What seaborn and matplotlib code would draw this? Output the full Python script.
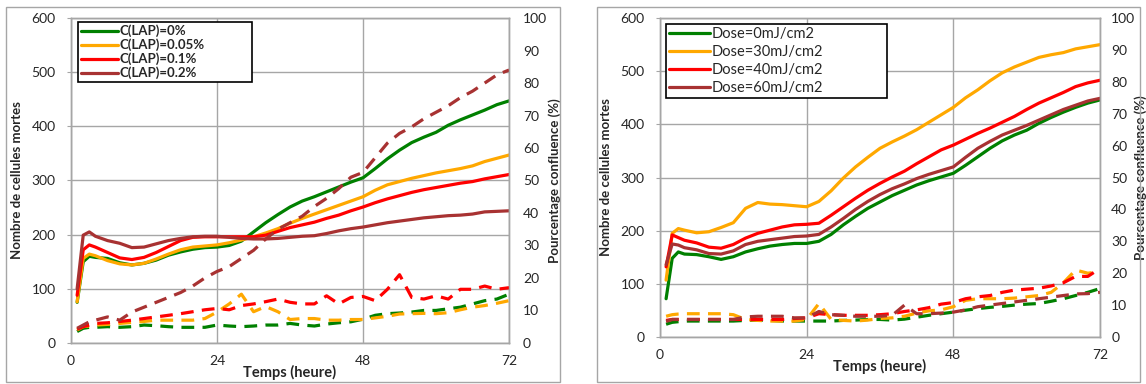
import matplotlib
matplotlib.use("Agg")
import matplotlib.pyplot as plt
from matplotlib.patches import Rectangle
import seaborn as sns
import pandas as pd

# temps (heures)
temps = [1, 2, 3, 4, 6, 8, 10, 12, 14, 16, 18, 20, 22, 24, 26, 28, 30, 32, 34, 36,
         38, 40, 42, 44, 46, 48, 50, 52, 54, 56, 58, 60, 62, 64, 66, 68, 70, 72]

# Panneau gauche : concentration LAP
lap_labels = ["C(LAP)=0%", "C(LAP)=0.05%", "C(LAP)=0.1%", "C(LAP)=0.2%"]
lap_mortes = [
    [75, 150, 160, 158, 156, 148, 144, 147, 153, 162, 168, 173, 176, 177, 180, 188, 205, 222, 237, 251,
     262, 270, 279, 288, 297, 305, 322, 340, 356, 370, 380, 389, 402, 412, 421, 430, 440, 447],
    [76, 156, 164, 161, 152, 146, 144, 147, 155, 164, 172, 177, 179, 181, 185, 190, 196, 203, 211, 221,
     230, 238, 246, 254, 262, 270, 282, 292, 298, 304, 309, 314, 318, 322, 327, 335, 341, 347],
    [88, 172, 181, 177, 167, 157, 154, 158, 167, 178, 189, 195, 196, 196, 196, 196, 196, 199, 206, 213,
     218, 223, 230, 236, 244, 251, 259, 266, 272, 278, 283, 287, 291, 295, 298, 303, 307, 311],
    [100, 199, 205, 197, 189, 184, 176, 177, 183, 189, 193, 196, 197, 197, 195, 193, 192, 192, 193, 195,
     197, 198, 202, 207, 211, 214, 218, 222, 225, 228, 231, 233, 235, 236, 238, 242, 243, 244],
]
lap_confluence = [
    [3.5, 4.5, 4.8, 4.8, 5, 4.8, 5, 5.5, 5.3, 5, 4.8, 4.8, 4.8, 5.5, 5.2, 5, 5.2, 5.5, 5.5, 6,
     5.5, 5.2, 5.8, 6.2, 6.5, 7.3, 8.5, 9, 9.2, 9.5, 10, 10, 10.5, 11, 12, 13, 13.5, 15],
    [4, 5, 5.2, 5.5, 5.7, 6, 6.3, 6.6, 7, 7, 7, 7, 7.5, 9.5, 12, 15, 9.6, 11.2, 9.6, 7.2,
     7.5, 7.5, 7, 7, 7.2, 7.2, 7.7, 8.2, 8.9, 9, 9.1, 9, 9.3, 10.2, 11, 11.5, 12.2, 13],
    [4.2, 5, 5.5, 6, 6.2, 6.6, 7, 7.5, 8, 8.5, 9, 9.6, 10.2, 10.6, 10.2, 11.5, 12, 12.7, 13.5, 12.5,
     12, 12, 14.5, 12, 14, 14.3, 13, 16.5, 21, 14, 13.5, 14.5, 13.5, 16.5, 16.5, 17.5, 16.5, 17],
    [4.5, 5.5, 6.5, 7, 8, 7, 9.5, 11, 12.5, 14, 15.5, 17.5, 20, 22, 23.5, 26, 28.5, 32, 35, 37,
     39, 42, 44.5, 47.5, 51, 52.5, 57, 61.5, 64.5, 66.5, 69, 71, 73, 75.5, 77.5, 80, 82.5, 84],
]

# Panneau droit : dose UV
dose_labels = ["Dose=0mJ/cm2", "Dose=30mJ/cm2", "Dose=40mJ/cm2", "Dose=60mJ/cm2"]
dose_mortes = [
    [72, 148, 160, 156, 155, 151, 146, 151, 160, 166, 171, 174, 176, 176, 180, 193, 211, 227, 242, 254,
     266, 276, 286, 294, 301, 308, 323, 339, 355, 369, 380, 389, 402, 413, 423, 432, 440, 446],
    [107, 195, 204, 201, 196, 198, 206, 215, 242, 253, 250, 249, 247, 245, 255, 275, 299, 320, 338, 355,
     367, 378, 390, 404, 418, 432, 450, 465, 482, 497, 508, 517, 526, 531, 535, 542, 546, 550],
    [132, 192, 187, 182, 177, 169, 167, 174, 186, 195, 201, 207, 211, 212, 214, 229, 245, 261, 276, 289,
     301, 312, 326, 339, 352, 361, 372, 383, 393, 404, 415, 428, 440, 450, 460, 471, 478, 483],
    [136, 175, 173, 168, 164, 157, 156, 162, 174, 180, 183, 186, 189, 190, 193, 207, 223, 240, 255, 268,
     279, 288, 298, 306, 313, 320, 338, 355, 368, 380, 389, 398, 408, 418, 428, 436, 444, 449],
]
dose_confluence = [
    [4, 4.6, 4.8, 5, 5, 5, 5, 5, 5.2, 5.3, 5.2, 5, 5, 5, 5, 5, 5.2, 5.3, 5.5, 5.5,
     5.3, 5.6, 6.2, 6.8, 7.3, 7.8, 8.4, 8.9, 9.3, 9.6, 10, 10.3, 10.5, 11.2, 12, 13, 14, 15.2],
    [6.5, 7, 7.2, 7.3, 7.3, 7.3, 7.3, 7, 5.5, 5.2, 5, 5, 5, 5.5, 10.5, 5.5, 5.2, 5, 5.3, 5.8,
     6, 6.5, 7.5, 8.2, 8.5, 9.5, 11.5, 12, 12, 12, 12.2, 12.6, 13, 14, 17, 21, 20, 20.5],
    [5.2, 5.5, 5.5, 5.5, 5.5, 5.5, 5.5, 5.5, 5.5, 5.5, 5.5, 5.5, 5.8, 6, 7.3, 7, 6.8, 6.8, 6.8, 7,
     7.3, 8, 8.5, 9.2, 10.3, 10.8, 12, 12.6, 13, 14, 14.7, 15, 15.3, 16, 17, 19, 19, 21.5],
    [4.9, 5.5, 5.5, 5.5, 5.5, 5.5, 5.5, 5.5, 6.3, 6.5, 6.5, 6.5, 6, 6, 8, 7, 6.8, 6.5, 6.5, 6.5,
     6.8, 10, 7.3, 7.3, 7.5, 7.8, 8.5, 9.5, 10, 10.5, 11, 11.5, 12, 12.5, 13, 13.5, 13.6, 14],
]

couleurs = ["#008000", "#FFA800", "#FF0000", "#A83232"]
gris = "#A6A6A6"

sns.set_style("white")
plt.rcParams['font.family'] = ['Lato', 'DejaVu Sans']

fig = plt.figure(figsize=(11.46, 3.84), dpi=100)


def to_long(labels, series):
    rows = []
    for lab, vals in zip(labels, series):
        for t, v in zip(temps, vals):
            rows.append({"Temps": t, "val": v, "serie": lab})
    return pd.DataFrame(rows)


def panneau(rect, labels, mortes, confluence, leg_bbox, leg_fs, leg_weight, leg_spacing,
            pad_droite, lpad_droite):
    ax = fig.add_axes(rect)
    ax2 = ax.twinx()

    df_m = to_long(labels, mortes)
    df_c = to_long(labels, confluence)
    pal = dict(zip(labels, couleurs))

    sns.lineplot(data=df_m, x="Temps", y="val", hue="serie", hue_order=labels,
                 palette=pal, ax=ax, lw=2.3, legend=False)
    sns.lineplot(data=df_c, x="Temps", y="val", hue="serie", hue_order=labels,
                 palette=pal, ax=ax2, lw=2.3, legend=False)
    for ln in ax2.lines:
        ln.set_dashes((4, 2.6))

    ax.set_xlim(0, 72)
    ax.set_ylim(0, 600)
    ax2.set_ylim(0, 100)
    ax.set_xticks([0, 24, 48, 72])
    ax.set_yticks(range(0, 601, 100))
    ax2.set_yticks(range(0, 101, 10))
    ax.grid(True, color=gris, lw=1.0)
    for a in (ax, ax2):
        for s in a.spines.values():
            s.set_color(gris)
            s.set_linewidth(1.0)
    ax.tick_params(axis="y", length=3, color=gris, pad=8, labelsize=10)
    ax.tick_params(axis="x", length=0, pad=9, labelsize=10)
    ax2.tick_params(axis="y", length=0, pad=pad_droite, labelsize=10)

    ax.set_xlabel("Temps (heure)", fontsize=10.5, fontweight="bold", labelpad=-2)
    ax.set_ylabel("Nombre de cellules mortes", fontsize=9.5, fontweight="bold", labelpad=6)
    ax2.set_ylabel("Pourcentage confluence (%)", fontsize=9.5, fontweight="bold",
                   labelpad=lpad_droite)

    leg = ax2.legend(ax.lines[:4], labels, loc="upper left", bbox_to_anchor=leg_bbox,
                     mode="expand", borderaxespad=0, frameon=True, fancybox=False,
                     edgecolor="black", framealpha=1, handlelength=2.8, handletextpad=0.15,
                     labelspacing=leg_spacing, borderpad=0.2,
                     prop={"size": leg_fs, "weight": leg_weight})
    leg.get_frame().set_linewidth(1.2)
    return ax


panneau([0.062, 0.107, 0.3822, 0.846], lap_labels, lap_mortes, lap_confluence,
        (0.016, 0.5, 0.397, 0.488), 9.5, "bold", 0.1, 10, 1)
panneau([0.5759, 0.1224, 0.384, 0.8306], dose_labels, dose_mortes, dose_confluence,
        (0.0136, 0.5, 0.502, 0.481), 10.5, "normal", 0.28, 8, -1)

# cadres extérieurs
for x0, w in [(0.0052, 0.4834), (0.521, 0.4738)]:
    fig.patches.append(Rectangle((x0, 0.005), w, 0.977, transform=fig.transFigure,
                                 fill=False, edgecolor=gris, lw=1.0))

fig.savefig("out.png", dpi=100)
